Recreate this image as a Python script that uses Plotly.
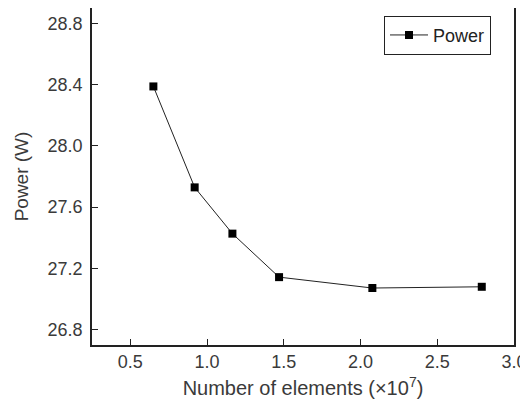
import plotly.graph_objects as go

elements = [0.65, 0.919, 1.165, 1.469, 2.077, 2.790]
power = [28.388, 27.729, 27.427, 27.143, 27.072, 27.080]
x_ticks = [0.5, 1.0, 1.5, 2.0, 2.5, 3.0]
y_ticks = [26.8, 27.2, 27.6, 28.0, 28.4, 28.8]

FONT = "Liberation Sans, Arial, sans-serif"

fig = go.Figure()
fig.add_trace(go.Scatter(
    x=elements, y=power, mode="lines+markers", name="Power",
    line=dict(color="#222222", width=1),
    marker=dict(symbol="square", size=8, color="black"),
))

# page body has an 8px margin, so the figure is 8px smaller and margins offset
fig.update_layout(
    width=520, height=401,
    margin=dict(l=84, r=14, t=0, b=64, autoexpand=False),
    paper_bgcolor="white", plot_bgcolor="white",
    font=dict(family=FONT, size=18, color="#333333"),
    showlegend=True,
    legend=dict(x=0.9455, y=0.977, xanchor="right", yanchor="top",
                bordercolor="#222222", borderwidth=1, bgcolor="white",
                itemwidth=38,
                font=dict(family=FONT, size=18, color="#222222"),
                ),
)
fig.update_xaxes(
    range=[0.25, 3.0], tickvals=x_ticks, ticktext=[f"{v:.1f}" for v in x_ticks],
    showgrid=False, zeroline=False, showline=True, linecolor="#222222", linewidth=1.5,
    mirror=True, ticks="inside", ticklen=6, tickcolor="#222222", automargin=False,
    tickfont=dict(size=18, color="#3a3a3a"),
    title=dict(text="Number of elements (×10<sup>7</sup>)", font=dict(size=20, color="#3a3a3a"), standoff=10),
)
fig.update_yaxes(
    range=[26.7, 28.9], tickvals=y_ticks, ticktext=[f"{v:.1f}" for v in y_ticks],
    showgrid=False, zeroline=False, showline=True, linecolor="#222222", linewidth=1.5,
    mirror=True, ticks="inside", ticklen=6, tickcolor="#222222", automargin=False,
    tickfont=dict(size=18, color="#3a3a3a"), ticklabelstandoff=4,
    title=dict(text="Power (W)", font=dict(size=19, color="#3a3a3a"), standoff=14),
)
fig.write_html("out.html")
